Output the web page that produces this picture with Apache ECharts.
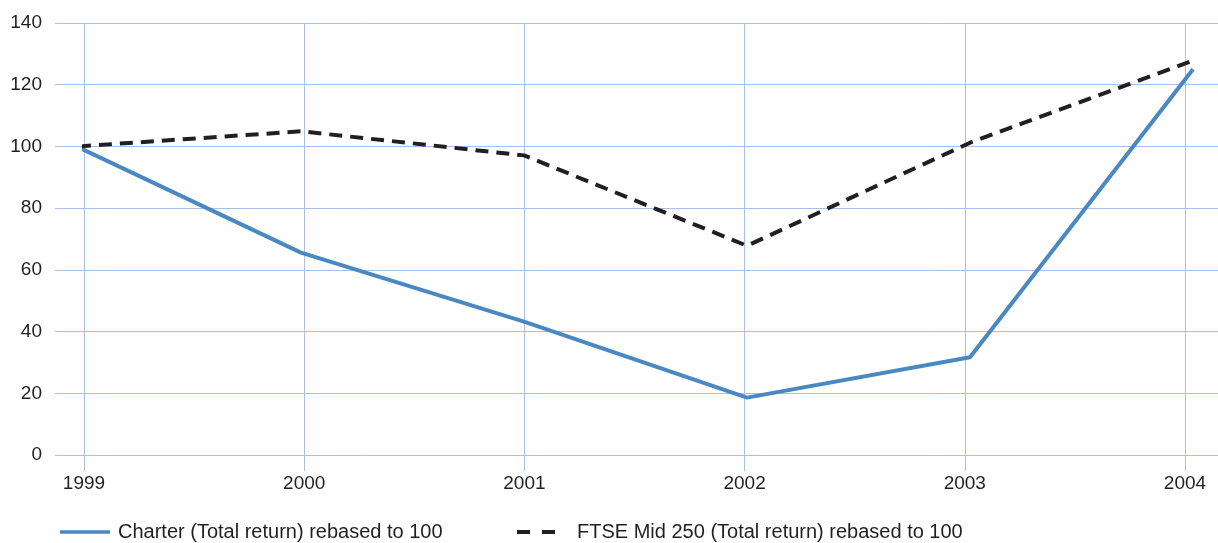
<!DOCTYPE html>
<html>
<head>
<meta charset="utf-8">
<script src="https://cdn.jsdelivr.net/npm/echarts@6/dist/echarts.min.js"></script>
<style>html,body{margin:0;padding:0;background:#fff}#c{width:1218px;height:543px}</style>
</head>
<body>
<div id="c"></div>
<script>
const years = [1999, 2000, 2001, 2002, 2003, 2004];
const charter = [99.8, 65.6, 43.2, 18.6, 31.7, 125.0];
const ftse = [100.0, 104.9, 97.1, 67.8, 101.2, 127.8];
const seriesNames = ['Charter (Total return) rebased to 100', 'FTSE Mid 250 (Total return) rebased to 100'];
const yTicks = [0, 20, 40, 60, 80, 100, 120, 140];

const gridColor = '#a7c0e4';
const textColor = '#231f20';
const blue = '#4a88c2';
const dark = '#231f20';
const font = 'Liberation Sans, Arial, sans-serif';

const chart = echarts.init(document.getElementById('c'), null, {renderer: 'canvas'});
chart.setOption({
  animation: false,
  backgroundColor: '#fff',
  grid: {left: 84, right: 0, top: 23, bottom: 88, containLabel: false},
  xAxis: [{
    type: 'value', min: years[0], max: 2004.15, interval: 1,
    axisLine: {show: false},
    axisTick: {show: true, length: 16, lineStyle: {color: gridColor}},
    splitLine: {show: true, lineStyle: {color: gridColor, width: 1}},
    axisLabel: {
      color: textColor, fontFamily: font, fontSize: 19, margin: 19,
      showMaxLabel: false,
      formatter: v => (Number.isInteger(v) && years.includes(v)) ? String(v) : ''
    }
  }, {
    type: 'value', min: 1999.027, max: 2004.112, show: false
  }],
  yAxis: {
    type: 'value', min: yTicks[0], max: yTicks[yTicks.length - 1], interval: 20,
    axisLine: {show: false},
    axisTick: {show: true, length: 29, lineStyle: {color: gridColor}},
    splitLine: {show: true, lineStyle: {color: gridColor, width: 1}},
    axisLabel: {color: textColor, fontFamily: font, fontSize: 19, margin: 42}
  },
  legend: [{
    left: 60, top: 522, padding: 0,
    icon: 'rect',
    itemWidth: 50, itemHeight: 3.5,
    textStyle: {color: textColor, fontFamily: font, fontSize: 20, padding: [0, 0, 0, 3]},
    data: [seriesNames[0]]
  }, {
    left: 517, top: 522, padding: 0,
    icon: 'path://M0,0H13V4H0Z M25,0H38V4H25Z',
    itemWidth: 38, itemHeight: 4,
    textStyle: {color: textColor, fontFamily: font, fontSize: 20, padding: [0, 0, 0, 17]},
    data: [seriesNames[1]]
  }],
  series: [{
    name: seriesNames[0], type: 'line', xAxisIndex: 1,
    data: years.map((y, i) => [y, charter[i]]),
    showSymbol: false, symbol: 'none', clip: false,
    lineStyle: {color: blue, width: 4},
    itemStyle: {color: blue}
  }, {
    name: seriesNames[1], type: 'line', xAxisIndex: 1,
    data: years.map((y, i) => [y, ftse[i]]),
    showSymbol: false, symbol: 'none', clip: false,
    lineStyle: {color: dark, width: 4, type: [13, 8]},
    itemStyle: {color: dark}
  }]
});
</script>
</body>
</html>
